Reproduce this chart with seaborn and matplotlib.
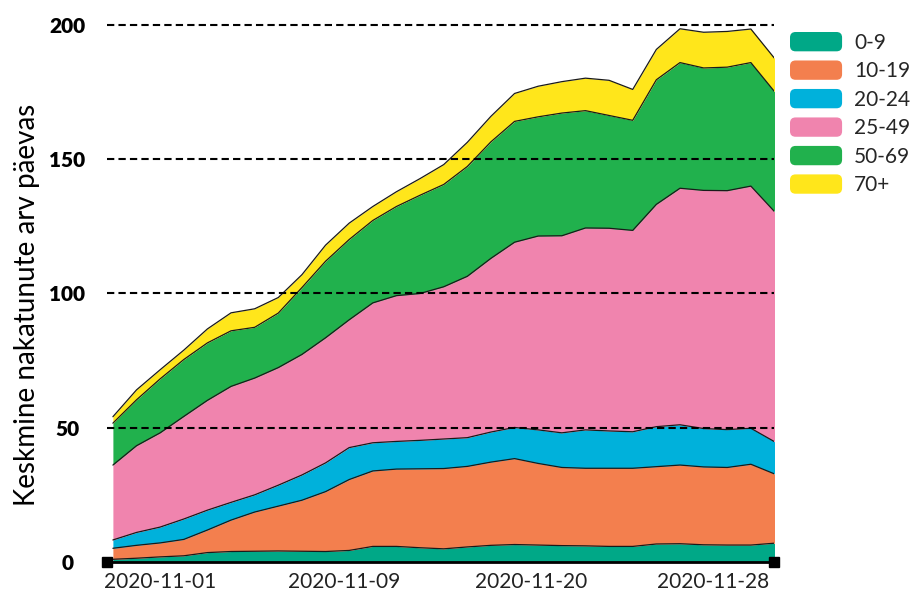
import numpy as np
import pandas as pd
import seaborn as sns
import matplotlib.pyplot as plt
import matplotlib.patches as mpatches
from matplotlib.patches import FancyBboxPatch
from matplotlib.legend_handler import HandlerPatch

# daily averages per age group
groups = ['0-9', '10-19', '20-24', '25-49', '50-69', '70+']
colors = ['#00A887', '#F37F4E', '#00B1DB', '#F084AE', '#21B14D', '#FFE61B']

a_0_9 = [1.0, 1.4, 1.9, 2.3, 3.5, 3.9, 4.0, 4.1, 4.0, 3.9, 4.3, 5.8, 5.8, 5.3, 4.9,
         5.6, 6.2, 6.5, 6.3, 6.1, 6.0, 5.8, 5.8, 6.7, 6.8, 6.4, 6.3, 6.3, 7.0]
a_10_19 = [4.1, 4.8, 5.2, 6.1, 8.4, 11.7, 14.6, 16.7, 19.0, 22.3, 26.4, 28.1, 28.8, 29.4, 29.9,
           30.0, 31.0, 32.0, 30.4, 29.1, 28.9, 29.1, 29.1, 28.8, 29.3, 29.0, 28.9, 30.1, 25.8]
a_20_24 = [3.1, 4.8, 5.9, 7.6, 7.4, 6.6, 6.4, 7.8, 9.4, 10.7, 11.9, 10.5, 10.3, 10.6, 11.0,
           10.7, 11.2, 11.6, 12.5, 12.9, 14.3, 13.9, 13.6, 14.9, 15.0, 14.3, 14.1, 13.4, 12.0]
a_25_49 = [27.9, 32.3, 35.1, 38.2, 40.9, 43.2, 43.5, 43.8, 44.9, 46.6, 47.6, 52.1, 54.3, 54.7, 56.7,
           60.1, 64.7, 69.0, 72.2, 73.4, 75.2, 75.5, 75.0, 82.8, 88.1, 88.7, 89.0, 90.2, 85.7]
a_50_69 = [15.6, 17.1, 20.1, 21.2, 21.4, 20.7, 18.9, 20.3, 24.9, 28.5, 29.9, 30.7, 33.2, 36.6, 38.1,
           40.9, 43.4, 45.0, 44.4, 45.7, 43.7, 42.0, 41.0, 46.4, 46.8, 45.6, 46.0, 46.0, 44.7]
a_70 = [2.4, 3.7, 3.4, 3.5, 5.2, 6.7, 6.9, 5.8, 4.8, 6.0, 6.1, 5.2, 5.5, 6.2, 7.4,
        9.0, 9.5, 10.4, 11.4, 11.7, 12.1, 13.1, 11.5, 11.3, 12.6, 13.3, 13.3, 12.5, 12.4]

tick_labels = ['2020-11-01', '2020-11-09', '2020-11-20', '2020-11-28']
tick_pos = [2, 9.8, 17.7, 25.4]

df = pd.DataFrame(dict(zip(groups, [a_0_9, a_10_19, a_20_24, a_25_49, a_50_69, a_70])))
x = np.arange(len(df))

sns.set_style('white')
plt.rcParams['font.family'] = ['Lato', 'DejaVu Sans']

fig = plt.figure(figsize=(9.24, 5.91), dpi=100)
ax = fig.add_axes([0.1163, 0.0491, 0.7219, 0.9086])

lower = np.zeros(len(df))
for g, c in zip(groups, colors):
    upper = lower + df[g].values
    ax.fill_between(x, lower, upper, color=c, lw=0, zorder=2)
    sns.lineplot(x=x, y=upper, color='#1a1a1a', lw=0.9, ax=ax, legend=False, zorder=3)
    lower = upper

for v in [50, 100, 150, 200]:
    ax.axhline(v, color='black', lw=1.5, ls=(0, (3.5, 2)), zorder=4, clip_on=False)

ax.set_xlim(-0.23, 28)
ax.set_ylim(0, 200)

for s in ['top', 'right', 'left']:
    ax.spines[s].set_visible(False)
ax.spines['bottom'].set_color('black')
ax.spines['bottom'].set_linewidth(2)
ax.spines['bottom'].set_zorder(5)
ax.plot(0, 0, 's', color='black', ms=6.5, transform=ax.transAxes, clip_on=False, zorder=6)
ax.plot(1, 0, 's', color='black', ms=6.5, transform=ax.transAxes, clip_on=False, zorder=6)

ax.set_xticks(tick_pos)
ax.set_xticklabels(tick_labels, fontsize=15, color='#222222')
ax.set_yticks([0, 50, 100, 150, 200])
ax.set_yticklabels(['0', '50', '100', '150', '200'], fontsize=15, fontweight='heavy',
                   ha='center', color='black')
ax.tick_params(axis='x', length=0, pad=7)
ax.tick_params(axis='y', length=0, pad=29)

ax.set_ylabel('Keskmine nakatunute arv päevas', fontsize=20, color='black')
ax.yaxis.set_label_coords(-0.101, 0.479)


class RoundHandler(HandlerPatch):
    def create_artists(self, legend, orig_handle, xdescent, ydescent, width, height, fontsize, trans):
        p = FancyBboxPatch((-xdescent, -ydescent), width, height,
                           boxstyle='round,pad=0,rounding_size=4',
                           facecolor=orig_handle.get_facecolor(), edgecolor='none',
                           transform=trans)
        return [p]


handles = [mpatches.Patch(color=c, label=g) for g, c in zip(groups, colors)]
fig.legend(handles=handles, loc='upper left', bbox_to_anchor=(790 / 924, 1 - 32 / 591),
           frameon=False, handler_map={mpatches.Patch: RoundHandler()}, fontsize=15,
           handlelength=2.5, handleheight=1.05, handletextpad=0.58, labelspacing=0.37,
           borderaxespad=0, borderpad=0)

fig.savefig('out.png', dpi=100)
